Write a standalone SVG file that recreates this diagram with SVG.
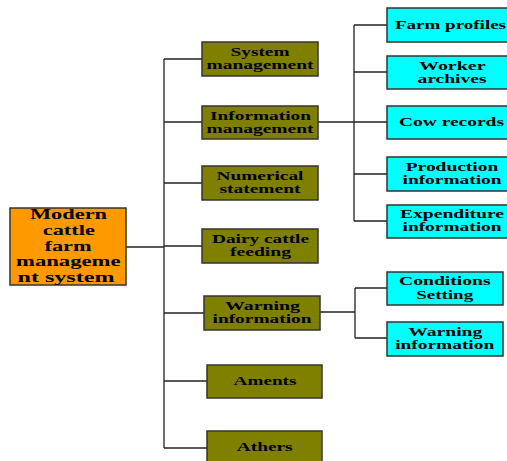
<svg xmlns="http://www.w3.org/2000/svg" width="507" height="461" viewBox="0 0 507 461">
<style>
.box{stroke:#333;stroke-width:1.5}
.root{fill:#FF9900}
.l1{fill:#808000}
.l2{fill:#00FFFF}
text{font-family:"Liberation Serif","Times New Roman",serif;font-weight:bold;font-size:13.5px;fill:#000;text-anchor:middle}
.rt{font-size:14px}
.conn{stroke:#222;stroke-width:1.3;fill:none}
</style>
<rect width="507" height="461" fill="#fff"/>
<g id="connectors" class="conn">
<path d="M126 247H164M164 59V448M164 59H202M164 122H202M164 183H202M164 246H202M164 313H204M164 381H207M164 448H207"/>
<path d="M318 122H354M354 25V221M354 25H387M354 72H387M354 122H387M354 174H387M354 221H387"/>
<path d="M320 312H355M355 288V338M355 288H387M355 338H387"/>
</g>
<g id="root"><rect class="box root" x="10" y="208" width="116" height="77"/>
<text class="rt" x="68.5" y="219" textLength="77" lengthAdjust="spacingAndGlyphs">Modern</text>
<text class="rt" x="68.8" y="235" textLength="52" lengthAdjust="spacingAndGlyphs">cattle</text>
<text class="rt" x="68" y="251" textLength="47" lengthAdjust="spacingAndGlyphs">farm</text>
<text class="rt" x="68.3" y="266" textLength="104.5" lengthAdjust="spacingAndGlyphs">manageme</text>
<text class="rt" x="66" y="282" textLength="97" lengthAdjust="spacingAndGlyphs">nt system</text></g>
<g id="system"><rect class="box l1" x="202" y="42" width="116" height="34"/>
<text x="260" y="56" textLength="59" lengthAdjust="spacingAndGlyphs">System</text>
<text x="260" y="69" textLength="107" lengthAdjust="spacingAndGlyphs">management</text></g>
<g id="info"><rect class="box l1" x="202" y="106" width="116" height="33"/>
<text x="260.5" y="120" textLength="101" lengthAdjust="spacingAndGlyphs">Information</text>
<text x="260" y="133" textLength="107" lengthAdjust="spacingAndGlyphs">management</text></g>
<g id="numerical"><rect class="box l1" x="202" y="166" width="116" height="34"/>
<text x="260" y="180" textLength="87" lengthAdjust="spacingAndGlyphs">Numerical</text>
<text x="260" y="193" textLength="81" lengthAdjust="spacingAndGlyphs">statement</text></g>
<g id="dairy"><rect class="box l1" x="202" y="229" width="116" height="34"/>
<text x="260.5" y="243" textLength="97" lengthAdjust="spacingAndGlyphs">Dairy cattle</text>
<text x="260.5" y="256" textLength="61" lengthAdjust="spacingAndGlyphs">feeding</text></g>
<g id="warning"><rect class="box l1" x="204" y="296" width="116" height="34"/>
<text x="262.5" y="310" textLength="75" lengthAdjust="spacingAndGlyphs">Warning</text>
<text x="262" y="323" textLength="99" lengthAdjust="spacingAndGlyphs">information</text></g>
<g id="aments"><rect class="box l1" x="207" y="365" width="115" height="33"/>
<text x="265" y="385" textLength="63" lengthAdjust="spacingAndGlyphs">Aments</text></g>
<g id="athers"><rect class="box l1" x="207" y="431" width="115" height="34"/>
<text x="264.7" y="451" textLength="56" lengthAdjust="spacingAndGlyphs">Athers</text></g>
<g id="farm"><rect class="box l2" x="387" y="8" width="125" height="34"/>
<text x="450.5" y="29" textLength="111" lengthAdjust="spacingAndGlyphs">Farm profiles</text></g>
<g id="worker"><rect class="box l2" x="387" y="56" width="125" height="33"/>
<text x="452.3" y="70" textLength="66.5" lengthAdjust="spacingAndGlyphs">Worker</text>
<text x="452" y="83" textLength="69" lengthAdjust="spacingAndGlyphs">archives</text></g>
<g id="cow"><rect class="box l2" x="387" y="106" width="125" height="33"/>
<text x="451.5" y="126" textLength="105" lengthAdjust="spacingAndGlyphs">Cow records</text></g>
<g id="production"><rect class="box l2" x="387" y="157" width="125" height="34"/>
<text x="452" y="171" textLength="92.5" lengthAdjust="spacingAndGlyphs">Production</text>
<text x="452" y="184" textLength="99" lengthAdjust="spacingAndGlyphs">information</text></g>
<g id="expenditure"><rect class="box l2" x="387" y="205" width="125" height="33"/>
<text x="452" y="218" textLength="104" lengthAdjust="spacingAndGlyphs">Expenditure</text>
<text x="452" y="231" textLength="99" lengthAdjust="spacingAndGlyphs">information</text></g>
<g id="conditions"><rect class="box l2" x="387" y="272" width="116" height="33"/>
<text x="444.8" y="285" textLength="91.5" lengthAdjust="spacingAndGlyphs">Conditions</text>
<text x="444.7" y="299" textLength="57" lengthAdjust="spacingAndGlyphs">Setting</text></g>
<g id="warning2"><rect class="box l2" x="387" y="322" width="116" height="34"/>
<text x="445.3" y="336" textLength="74" lengthAdjust="spacingAndGlyphs">Warning</text>
<text x="444.7" y="349" textLength="99" lengthAdjust="spacingAndGlyphs">information</text></g>
</svg>
